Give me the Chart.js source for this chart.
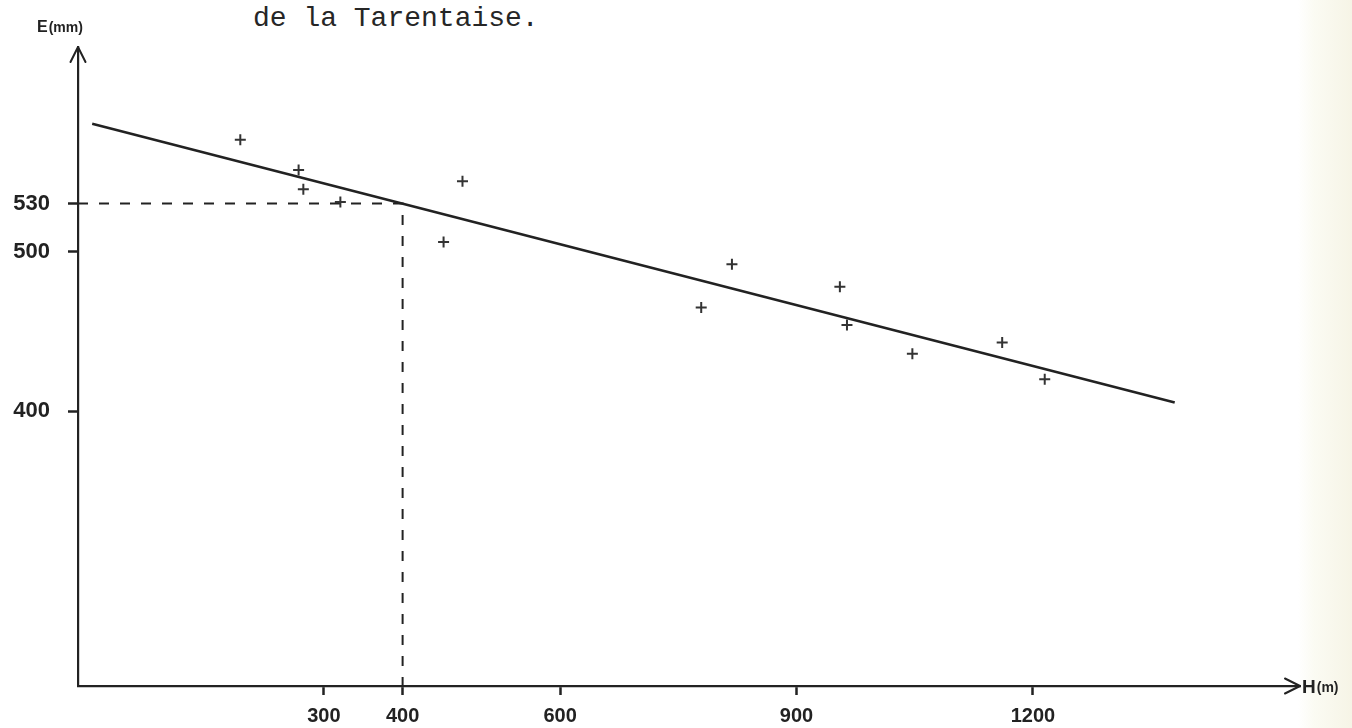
<!DOCTYPE html>
<html>
<head>
<meta charset="utf-8">
<script src="https://cdn.jsdelivr.net/npm/chart.js@4.4.1/dist/chart.umd.min.js"></script>
<style>
  html, body { margin: 0; padding: 0; }
  body {
    width: 1352px; height: 728px; overflow: hidden; position: relative;
    background: linear-gradient(to right, #ffffff 0, #ffffff 1298px, #fbfbf3 1314px, #f6f4e6 1352px);
  }
  #caption {
    position: absolute; left: 253px; top: 3px;
    font-family: "Liberation Mono", "DejaVu Sans Mono", monospace;
    font-size: 28px; color: #262626; white-space: nowrap;
  }
  #wrap { position: absolute; left: 0; top: 0; width: 1352px; height: 728px; }
</style>
</head>
<body>
<div id="caption">de la Tarentaise.</div>
<div id="wrap"><canvas id="chart" width="1352" height="728"></canvas></div>
<script>
// altitude H (m) and water E (mm) of the stations
var stationH = [194, 268, 274, 321, 476, 452, 818, 779, 955, 964, 1047, 1161, 1215];
var stationE = [570, 551, 539, 531, 544, 506, 492, 465, 478, 454, 436, 443, 420];

// regression line ends
var fitH = [6, 1380];
var fitE = [580, 405.5];

// read-off at 400 m
var guideH = 400;
var guideE = 530;

var xTicks = [300, 400, 600, 900, 1200];
var yTicks = [400, 500, 530];

var xMin = -12, xMax = 1539;
var yMin = 228, yMax = 628;

var ink = "#222";

function pts(xs, ys) {
    return xs.map(function (x, i) { return { x: x, y: ys[i] }; });
}

// arrows + axis names
var axisDeco = {
    id: "axisDeco",
    afterDraw: function (chart) {
        var c = chart.ctx, a = chart.chartArea;
        c.save();
        c.strokeStyle = ink;
        c.lineWidth = 2;
        c.lineCap = "round";
        c.lineJoin = "round";
        // y arrow
        c.beginPath();
        c.moveTo(a.left - 7.5, a.top + 15);
        c.lineTo(a.left, a.top);
        c.lineTo(a.left + 7.5, a.top + 15);
        c.stroke();
        // x arrow
        c.beginPath();
        c.moveTo(a.right - 15, a.bottom - 7.5);
        c.lineTo(a.right, a.bottom);
        c.lineTo(a.right - 15, a.bottom + 7.5);
        c.stroke();

        c.fillStyle = ink;
        c.textBaseline = "alphabetic";
        c.font = "bold 16px 'Liberation Sans', Arial, sans-serif";
        c.fillText("E", a.left - 41, a.top - 15);
        var w = c.measureText("E").width;
        c.font = "bold 14px 'Liberation Sans', Arial, sans-serif";
        c.fillText("(mm)", a.left - 41 + w + 1, a.top - 15);

        c.font = "bold 19px 'Liberation Sans', Arial, sans-serif";
        c.fillText("H", a.right + 2, a.bottom + 7);
        w = c.measureText("H").width;
        c.font = "bold 14px 'Liberation Sans', Arial, sans-serif";
        c.fillText("(m)", a.right + 2 + w + 1, a.bottom + 6);
        c.restore();
    }
};

var tickFamily = "'Liberation Sans', Arial, sans-serif";

new Chart(document.getElementById("chart"), {
    type: "scatter",
    data: {
        datasets: [
            {
                label: "stations",
                data: pts(stationH, stationE),
                pointStyle: "cross",
                pointRadius: 5.5,
                pointBorderWidth: 2,
                borderColor: "#333",
                backgroundColor: "#333"
            },
            {
                type: "line",
                label: "fit",
                data: pts(fitH, fitE),
                borderColor: ink,
                borderWidth: 2.6,
                pointRadius: 0,
                fill: false
            },
            {
                type: "line",
                label: "guide",
                data: [{ x: xMin, y: guideE }, { x: guideH, y: guideE }, { x: guideH, y: yMin }],
                borderColor: ink,
                borderWidth: 2,
                borderDash: [10, 11],
                pointRadius: 0,
                fill: false
            }
        ]
    },
    options: {
        responsive: false,
        animation: false,
        layout: { padding: { top: 47, right: 52, left: 0, bottom: 0 } },
        plugins: {
            legend: { display: false },
            tooltip: { enabled: false }
        },
        scales: {
            x: {
                type: "linear",
                min: xMin,
                max: xMax,
                afterBuildTicks: function (s) { s.ticks = xTicks.map(function (v) { return { value: v }; }); },
                afterFit: function (s) { s.height = 42; },
                ticks: {
                    color: ink, font: { family: tickFamily, size: 20, weight: "bold" },
                    padding: 9, maxRotation: 0, autoSkip: false,
                    callback: function (v) { return String(v); }
                },
                grid: { drawOnChartArea: false, drawTicks: true, tickLength: 9, tickWidth: 2.5, tickColor: ink },
                border: { display: true, color: ink, width: 2.2 }
            },
            y: {
                type: "linear",
                min: yMin,
                max: yMax,
                afterBuildTicks: function (s) { s.ticks = yTicks.map(function (v) { return { value: v }; }); },
                afterFit: function (s) { s.width = 78; },
                ticks: { color: ink, font: { family: tickFamily, size: 22, weight: "bold" }, padding: 18, autoSkip: false },
                grid: { drawOnChartArea: false, drawTicks: true, tickLength: 10, tickWidth: 2.5, tickColor: ink },
                border: { display: true, color: ink, width: 2.2 }
            }
        }
    },
    plugins: [axisDeco]
});
</script>
</body>
</html>
